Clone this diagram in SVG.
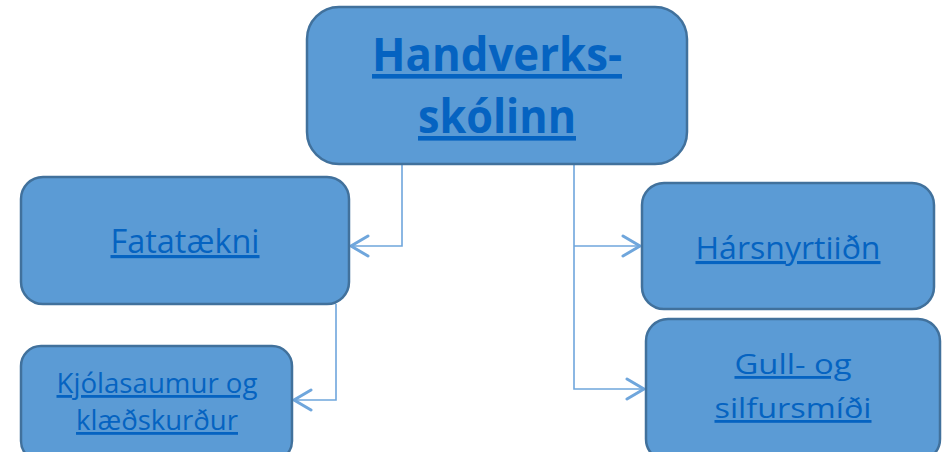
<svg xmlns="http://www.w3.org/2000/svg" width="949" height="452" viewBox="0 0 949 452">
<style>
.box{fill:#5B9BD5;stroke:#41719C;stroke-width:2.5}
.t{font-family:"Open Sans","Noto Sans","Liberation Sans",sans-serif;fill:#0563C1;text-decoration:underline;text-anchor:middle}
.c{fill:none;stroke:#6FA6DC;stroke-width:1.6}
</style>
<defs>
<marker id="ah" markerUnits="userSpaceOnUse" markerWidth="26" markerHeight="26" refX="20" refY="12" orient="auto">
<polyline points="2,2 19,12 2,22" fill="none" stroke="#6FA6DC" stroke-width="3" stroke-linecap="round"/>
</marker>
</defs>
<g id="connectors">
<path class="c" d="M402,164 V246 H350" marker-end="url(#ah)"/>
<path class="c" d="M574,164 V389 H645" marker-end="url(#ah)"/>
<path class="c" d="M574,246 H641" marker-end="url(#ah)"/>
<path class="c" d="M336,304 V400 H293" marker-end="url(#ah)"/>
</g>
<g id="node-handverksskolinn">
<rect class="box" x="307" y="7" width="380" height="157" rx="32"/>
<text class="t" x="497" y="71" font-size="46" font-weight="bold" textLength="250" lengthAdjust="spacingAndGlyphs">Handverks-</text>
<text class="t" x="497" y="133" font-size="46" font-weight="bold" textLength="158" lengthAdjust="spacingAndGlyphs">skólinn</text>
</g>
<g id="node-fatataekni">
<rect class="box" x="21" y="177" width="328" height="127" rx="22"/>
<text class="t" x="185" y="253" font-size="32" textLength="149" lengthAdjust="spacingAndGlyphs">Fatatækni</text>
</g>
<g id="node-kjolasaumur">
<rect class="box" x="21" y="346" width="271" height="115" rx="20"/>
<text class="t" x="157" y="393" font-size="28" textLength="201" lengthAdjust="spacingAndGlyphs">Kjólasaumur og</text>
<text class="t" x="157" y="430" font-size="28" textLength="162" lengthAdjust="spacingAndGlyphs">klæðskurður</text>
</g>
<g id="node-harsnyrtiidn">
<rect class="box" x="642" y="183" width="292" height="126" rx="22"/>
<text class="t" x="788" y="259" font-size="31" textLength="185" lengthAdjust="spacingAndGlyphs">Hársnyrtiiðn</text>
</g>
<g id="node-gull">
<rect class="box" x="646" y="319" width="294" height="142" rx="22"/>
<text class="t" x="793" y="374" font-size="28" textLength="117" lengthAdjust="spacingAndGlyphs">Gull- og</text>
<text class="t" x="793" y="418" font-size="28" textLength="157" lengthAdjust="spacingAndGlyphs">silfursmíði</text>
</g>
</svg>
